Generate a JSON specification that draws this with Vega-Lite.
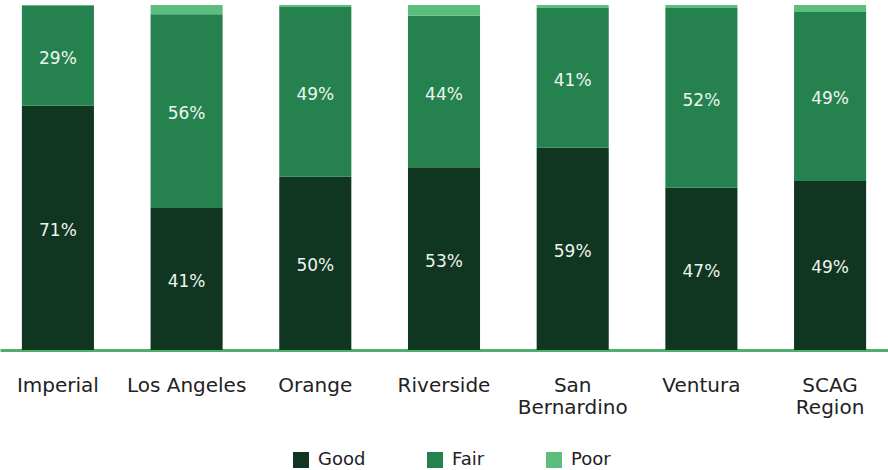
{
  "$schema": "https://vega.github.io/schema/vega-lite/v6.json",
  "width": 888,
  "height": 345,
  "autosize": {"type": "none"},
  "padding": {"top": 5, "left": 0, "right": 0, "bottom": 120},
  "background": "white",
  "config": {"view": {"stroke": null}},
  "data": {"values": [
    {"region": "Imperial", "condition": "Good", "rank": 1, "share": 0.71},
    {"region": "Imperial", "condition": "Fair", "rank": 2, "share": 0.29},
    {"region": "Imperial", "condition": "Poor", "rank": 3, "share": 0.003},
    {"region": "Los Angeles", "condition": "Good", "rank": 1, "share": 0.41},
    {"region": "Los Angeles", "condition": "Fair", "rank": 2, "share": 0.56},
    {"region": "Los Angeles", "condition": "Poor", "rank": 3, "share": 0.027},
    {"region": "Orange", "condition": "Good", "rank": 1, "share": 0.50},
    {"region": "Orange", "condition": "Fair", "rank": 2, "share": 0.49},
    {"region": "Orange", "condition": "Poor", "rank": 3, "share": 0.006},
    {"region": "Riverside", "condition": "Good", "rank": 1, "share": 0.53},
    {"region": "Riverside", "condition": "Fair", "rank": 2, "share": 0.44},
    {"region": "Riverside", "condition": "Poor", "rank": 3, "share": 0.031},
    {"region": "San Bernardino", "condition": "Good", "rank": 1, "share": 0.586},
    {"region": "San Bernardino", "condition": "Fair", "rank": 2, "share": 0.405},
    {"region": "San Bernardino", "condition": "Poor", "rank": 3, "share": 0.009},
    {"region": "Ventura", "condition": "Good", "rank": 1, "share": 0.47},
    {"region": "Ventura", "condition": "Fair", "rank": 2, "share": 0.52},
    {"region": "Ventura", "condition": "Poor", "rank": 3, "share": 0.009},
    {"region": "SCAG Region", "condition": "Good", "rank": 1, "share": 0.49},
    {"region": "SCAG Region", "condition": "Fair", "rank": 2, "share": 0.49},
    {"region": "SCAG Region", "condition": "Poor", "rank": 3, "share": 0.02}
  ]},
  "encoding": {
    "x": {
      "field": "region", "type": "nominal", "sort": null,
      "scale": {"paddingInner": 0.44, "paddingOuter": 0.17},
      "axis": {
        "title": null, "labelAngle": 0, "ticks": false,
        "domainColor": "#4caf6a", "domainWidth": 3,
        "labelFont": "DejaVu Sans", "labelFontSize": 20, "labelColor": "#222222",
        "labelPadding": 25, "labelLineHeight": 22,
        "labelExpr": "datum.label == 'San Bernardino' ? ['San', 'Bernardino'] : datum.label == 'SCAG Region' ? ['SCAG', 'Region'] : datum.label"
      }
    },
    "y": {
      "field": "share", "type": "quantitative", "stack": "normalize",
      "axis": null
    },
    "order": {"field": "rank", "type": "quantitative"}
  },
  "layer": [
    {
      "mark": {"type": "bar"},
      "encoding": {
        "color": {
          "field": "condition", "type": "nominal",
          "scale": {"domain": ["Good", "Fair", "Poor"], "range": ["#103520", "#25824f", "#5bbe7d"]},
          "legend": {
            "title": null, "orient": "none", "direction": "horizontal",
            "legendX": 292, "legendY": 446,
            "symbolType": "square", "symbolSize": 256, "symbolStrokeWidth": 0,
            "labelFont": "DejaVu Sans", "labelFontSize": 18, "labelColor": "#222222",
            "columnPadding": 60, "labelOffset": 8
          }
        }
      }
    },
    {
      "mark": {"type": "text", "color": "#eef5ef", "font": "DejaVu Sans", "fontSize": 17, "baseline": "middle", "dy": 3},
      "encoding": {
        "y": {"field": "share", "type": "quantitative", "stack": "normalize", "bandPosition": 0.5},
        "text": {"condition": {"test": "datum.condition == 'Poor'", "value": ""}, "field": "share", "type": "quantitative", "format": ".0%"}
      }
    }
  ]
}
